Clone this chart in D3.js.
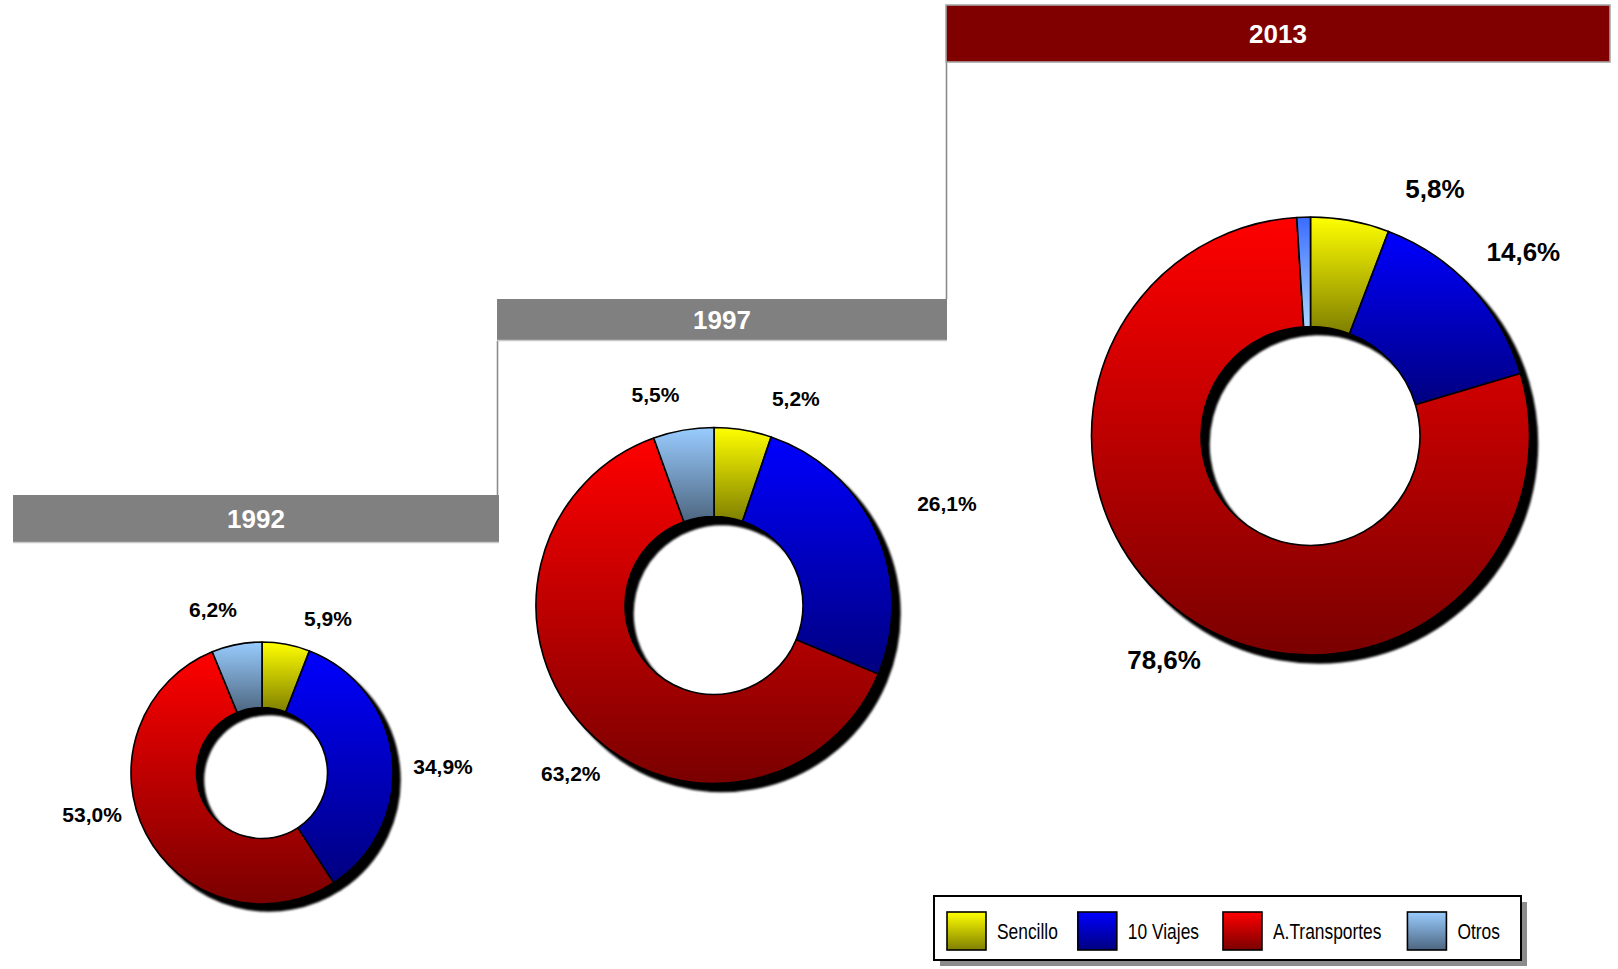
<!DOCTYPE html>
<html><head><meta charset="utf-8">
<script src="https://cdn.jsdelivr.net/npm/d3@7"></script>
<style>html,body{margin:0;padding:0;background:#fff;overflow:hidden}</style>
</head><body>
<svg id="chart" width="1618" height="969"></svg>
<script>
// ---- data ----
const categories = ["Sencillo", "10 Viajes", "A.Transportes", "Otros"];
const years = ["1992", "1997", "2013"];
const values1992 = [5.9, 34.9, 53.0, 6.2];
const values1997 = [5.2, 26.1, 63.2, 5.5];
const values2013 = [5.8, 14.6, 78.6, 1.0];
const seriesByYear = [values1992, values1997, values2013];

// ---- styles ----
const colorsTop = ["#ffff00", "#0000ff", "#ff0000", "#99ccff"];
const colorsBottom = ["#7f7f00", "#000080", "#7a0000", "#4d6680"];

// ---- layout ----
const layout = [
  {cx: 262, cy: 773, ro: 131, font: 21, shadow: 7,
   header: {x: 13, y: 495, w: 486, h: 48, fill: "#808080"},
   nudges: [[34.6, 12.4], [11.6, 10.6], [-19.2, -37.7], [-16, 3.3]], show: [1, 1, 1, 1]},
  {cx: 714, cy: 605.5, ro: 178, font: 21, shadow: 8,
   header: {x: 497, y: 299, w: 450, h: 42, fill: "#808080"},
   nudges: [[44.2, 21.1], [22, -7.3], [24.4, 8.7], [-18.7, 16.5]], show: [1, 1, 1, 1]},
  {cx: 1310.5, cy: 436, ro: 219, font: 26, shadow: 8,
   header: {x: 946, y: 5, w: 664, h: 57, fill: "#800000"},
   nudges: [[72.9, 33], [4.1, 9.4], [16.5, -9.4], [0, 0]], show: [1, 1, 1, 0]}
];

const svg = d3.select("#chart");
const defs = svg.append("defs");

function makeGrad(id, top, bottom) {
  const g = defs.append("linearGradient").attr("id", id)
    .attr("x1", 0).attr("y1", 0).attr("x2", 0).attr("y2", 1);
  g.append("stop").attr("offset", "0%").attr("stop-color", top);
  g.append("stop").attr("offset", "100%").attr("stop-color", bottom);
}
categories.forEach((c, i) => makeGrad("grad" + i, colorsTop[i], colorsBottom[i]));
makeGrad("gradOtros2013", "#3a6cff", "#a8d4ff");

const blur = defs.append("filter").attr("id", "shadowBlur")
  .attr("x", "-10%").attr("y", "-10%").attr("width", "120%").attr("height", "120%");
blur.append("feGaussianBlur").attr("stdDeviation", 0.9);

const fmt = v => d3.format(".1f")(v).replace(".", ",") + "%";

// connectors between headers
const connectors = svg.append("g");
for (let i = 0; i < layout.length - 1; i++) {
  const a = layout[i].header, b = layout[i + 1].header;
  const x = b.x + 0.5;
  connectors.append("line")
    .attr("x1", x).attr("x2", x)
    .attr("y1", b.y + b.h).attr("y2", a.y)
    .attr("stroke", "#8c8c8c").attr("stroke-width", 1.6);
}

const pie = d3.pie().sort(null).value(d => d);

years.forEach((yr, k) => {
  const L = layout[k];
  const vals = seriesByYear[k];
  const ri = L.ro * 0.5;
  const arcs = pie(vals);
  const arc = d3.arc().innerRadius(ri).outerRadius(L.ro);
  const labelArc = d3.arc().innerRadius(L.ro * 1.3).outerRadius(L.ro * 1.3);

  const h = L.header;
  svg.append("rect").attr("x", h.x).attr("y", h.y).attr("width", h.w).attr("height", h.h)
    .attr("fill", h.fill)
    .attr("stroke", k === 2 ? "#a6a6a6" : "none").attr("stroke-width", 1.6);
  if (k !== 2) {
    svg.append("line").attr("x1", h.x).attr("x2", h.x + h.w)
      .attr("y1", h.y + h.h - 0.5).attr("y2", h.y + h.h - 0.5)
      .attr("stroke", "#c8c8c8").attr("stroke-width", 1.5);
  }
  svg.append("text").attr("x", h.x + h.w / 2).attr("y", h.y + h.h / 2)
    .attr("dy", "0.36em").attr("text-anchor", "middle")
    .attr("font-family", "'Liberation Sans', Arial, sans-serif")
    .attr("font-weight", "bold").attr("font-size", 26).attr("fill", "#ffffff")
    .text(yr);

  const g = svg.append("g").attr("transform", `translate(${L.cx},${L.cy})`);
  g.append("g").attr("transform", `translate(${L.shadow},${L.shadow})`).attr("filter", "url(#shadowBlur)")
    .selectAll("path").data(arcs).join("path")
    .attr("d", arc).attr("fill", "#000").attr("stroke", "#000").attr("stroke-width", 1.5);
  g.append("g").selectAll("path").data(arcs).join("path")
    .attr("d", arc)
    .attr("fill", (d, i) => (k === 2 && i === 3) ? "url(#gradOtros2013)" : `url(#grad${i})`)
    .attr("stroke", "#000").attr("stroke-width", 1.6).attr("stroke-linejoin", "round");

  g.append("g").selectAll("text").data(arcs.filter((d, i) => L.show[i])).join("text")
    .attr("transform", d => {
      const c = labelArc.centroid(d);
      const n = L.nudges[d.index];
      return `translate(${c[0] + n[0]},${c[1] + n[1]})`;
    })
    .attr("dy", "0.36em").attr("text-anchor", "middle")
    .attr("font-family", "'Liberation Sans', Arial, sans-serif")
    .attr("font-weight", "bold").attr("font-size", L.font).attr("fill", "#000")
    .text(d => fmt(d.data));
});

// legend
const legend = {x: 934, y: 896, w: 587, h: 64};
svg.append("rect").attr("x", legend.x + 6).attr("y", legend.y + 6)
  .attr("width", legend.w).attr("height", legend.h).attr("fill", "#8c8c8c");
svg.append("rect").attr("x", legend.x).attr("y", legend.y)
  .attr("width", legend.w).attr("height", legend.h)
  .attr("fill", "#fff").attr("stroke", "#000").attr("stroke-width", 2);

const lg = svg.append("g");
const narrow = 0.79;
let lx = legend.x + 13;
const gaps = [20, 24, 26, 0];
categories.forEach((c, i) => {
  lg.append("rect").attr("x", lx).attr("y", legend.y + 16).attr("width", 39).attr("height", 38)
    .attr("fill", `url(#grad${i})`).attr("stroke", "#000").attr("stroke-width", 1.6);
  const t = lg.append("text")
    .attr("transform", `translate(${lx + 50},${legend.y + 35}) scale(${narrow},1)`)
    .attr("dy", "0.36em")
    .attr("font-family", "'Liberation Sans', Arial, sans-serif")
    .attr("font-size", 22).attr("fill", "#000").text(c);
  const w = t.node().getComputedTextLength() * narrow;
  lx += 50 + w + gaps[i];
});
</script>
</body></html>
